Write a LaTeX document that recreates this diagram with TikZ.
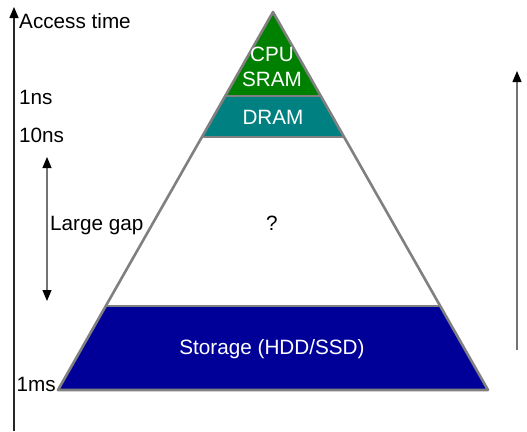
\documentclass[tikz,border=0pt]{standalone}
\usepackage{fontspec}
\setmainfont{Liberation Sans}
\usetikzlibrary{arrows.meta,calc}
\definecolor{cpugreen}{RGB}{0,128,0}
\definecolor{dramteal}{RGB}{0,128,128}
\definecolor{storblue}{RGB}{0,0,153}
\definecolor{edgegray}{RGB}{128,128,128}
\begin{document}
\begin{tikzpicture}[x=1pt,y=-1pt,
  lbl/.style={inner sep=0pt,font=\fontsize{20.7}{25}\selectfont},
  wlbl/.style={lbl,text=white},
  tip/.style={-{Triangle[width=9pt,length=11pt,color=black]}},
  dtip/.style={{Triangle[width=9pt,length=11pt,color=black]}-{Triangle[width=9pt,length=11pt,color=black]}}]
\useasboundingbox (0,0) rectangle (527,431);
% pyramid corners
\coordinate (A) at (273,12);
\coordinate (BL) at (58,390);
\coordinate (BR) at (488,390);
\coordinate (L1) at ($(A)!0.2222!(BL)$);
\coordinate (R1) at ($(A)!0.2222!(BR)$);
\coordinate (L2) at ($(A)!0.3307!(BL)$);
\coordinate (R2) at ($(A)!0.3307!(BR)$);
\coordinate (L3) at ($(A)!0.7778!(BL)$);
\coordinate (R3) at ($(A)!0.7778!(BR)$);
% layers
\fill[cpugreen] (A) -- (L1) -- (R1) -- cycle;
\fill[dramteal] (L1) -- (L2) -- (R2) -- (R1) -- cycle;
\fill[storblue] (L3) -- (BL) -- (BR) -- (R3) -- cycle;
\draw[edgegray,line width=1.6pt] (L1) -- (R1) (L2) -- (R2) (L3) -- (R3);
\draw[edgegray,line width=2.6pt,line join=round] (A) -- (BL) -- (BR) -- cycle;
% layer labels
\node[wlbl,align=center] (cpu) at (272,67) {CPU\\SRAM};
\node[wlbl] (dram) at (273,117) {DRAM};
\node[lbl] (q) at (272,223) {?};
\node[wlbl] (stor) at (272,349) {Storage (HDD/SSD)};
% axis
\coordinate (axb) at (14,431);
\coordinate (axt) at (14,7);
\draw[black!85,line width=1.5pt,tip] (axb) -- (axt);
\node[lbl,anchor=west] (at) at (19,21) {Access time};
\node[lbl,anchor=west] (ns1) at (19,97) {1ns};
\node[lbl,anchor=west] (ns10) at (19,135) {10ns};
\node[lbl,anchor=east] (ms1) at (56,384) {1ms};
% large gap
\coordinate (gt) at (47,157);
\coordinate (gb) at (47,301);
\draw[black!55,line width=1.2pt,dtip] (gb) -- (gt);
\node[lbl,anchor=west] (gap) at (50,226) {Large gap};
% right arrow
\coordinate (rb) at (517,350);
\coordinate (rt) at (517,71);
\draw[black!55,line width=1.2pt,tip] (rb) -- (rt);
\end{tikzpicture}
\end{document}
